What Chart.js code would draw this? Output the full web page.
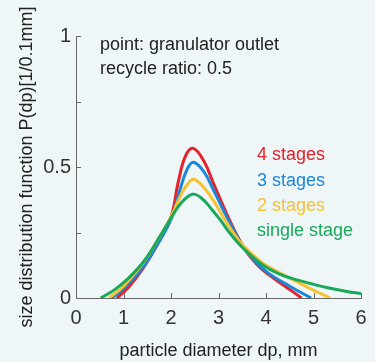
<!DOCTYPE html>
<html>
<head>
<meta charset="utf-8">
<script src="https://cdn.jsdelivr.net/npm/chart.js@4/dist/chart.umd.min.js"></script>
<style>
  html, body { margin:0; padding:0; background:#eef6f8; }
  #wrap { width:375px; height:362px; position:relative; }
</style>
</head>
<body>
<div id="wrap"><canvas id="c" width="375" height="362"></canvas></div>
<script>
// ---- data ----
const xTicks = [0, 1, 2, 3, 4, 5, 6];
const yTickLabels = [0, 0.5, 1];

const seriesNames = ["4 stages", "3 stages", "2 stages", "single stage"];

const x4 = [0.86, 1.1, 1.4, 1.7, 2.0, 2.15, 2.3, 2.47, 2.7, 2.9, 3.2, 3.52, 3.8, 4.05, 4.4, 4.75];
const y4 = [0, 0.04, 0.11, 0.2, 0.31, 0.44, 0.54, 0.571, 0.52, 0.435, 0.31, 0.196, 0.13, 0.09, 0.045, 0];

const x3 = [0.75, 1.0, 1.4, 1.7, 2.0, 2.2, 2.35, 2.48, 2.7, 2.9, 3.2, 3.52, 3.8, 4.05, 4.5, 4.95];
const y3 = [0, 0.035, 0.115, 0.2, 0.30, 0.42, 0.495, 0.518, 0.48, 0.41, 0.30, 0.196, 0.135, 0.095, 0.045, 0];

const x2 = [0.7, 1.0, 1.4, 1.7, 2.0, 2.2, 2.35, 2.48, 2.7, 2.9, 3.2, 3.52, 3.94, 4.3, 4.65, 5.0, 5.35];
const y2 = [0, 0.045, 0.13, 0.215, 0.31, 0.39, 0.435, 0.453, 0.42, 0.37, 0.28, 0.20, 0.132, 0.095, 0.062, 0.03, 0];

const x1 = [0.52, 0.8, 1.1, 1.45, 1.8, 2.0, 2.2, 2.45, 2.65, 2.85, 3.05, 3.25, 3.52, 3.94, 4.3, 4.65, 5.0, 5.35, 5.7, 6.0];
const y1 = [0, 0.03, 0.075, 0.145, 0.245, 0.305, 0.36, 0.396, 0.38, 0.34, 0.295, 0.245, 0.19, 0.125, 0.09, 0.069, 0.052, 0.037, 0.025, 0.017];

const colors = ["#e3222c", "#1d86d6", "#f6c232", "#1aa85a"];
const noteLines = ["point: granulator outlet", "recycle ratio: 0.5"];

function pts(xs, ys) { return xs.map((x, i) => ({x: x, y: ys[i]})); }
const seriesData = [pts(x4, y4), pts(x3, y3), pts(x2, y2), pts(x1, y1)];

const FONT = "'Liberation Sans', Arial, sans-serif";

const decor = {
  id: 'decor',
  beforeDraw(chart) {
    const ctx = chart.ctx;
    ctx.save();
    ctx.fillStyle = '#eef6f8';
    ctx.fillRect(0, 0, chart.width, chart.height);
    ctx.restore();
  },
  afterDraw(chart) {
    const ctx = chart.ctx;
    const xs = chart.scales.x, ys = chart.scales.y;
    const ca = chart.chartArea;
    ctx.save();
    ctx.strokeStyle = '#666';
    ctx.lineWidth = 1;
    // inside tick marks
    xTicks.forEach(v => {
      if (v === 0) return;
      const px = Math.round(xs.getPixelForValue(v)) + 0.5;
      ctx.beginPath(); ctx.moveTo(px, ca.bottom); ctx.lineTo(px, ca.bottom - 5); ctx.stroke();
    });
    [0.25, 0.5, 0.75, 1].forEach(v => {
      const py = Math.round(ys.getPixelForValue(v)) + 0.5;
      ctx.beginPath(); ctx.moveTo(ca.left, py); ctx.lineTo(ca.left + 5, py); ctx.stroke();
    });
    // notes
    ctx.fillStyle = '#222';
    ctx.font = '18px ' + FONT;
    ctx.textBaseline = 'middle';
    ctx.textAlign = 'left';
    ctx.fillText(noteLines[0], 100, 45);
    ctx.fillText(noteLines[1], 100, 69);
    // series labels
    const ly = [155, 181, 206, 231];
    seriesNames.forEach((n, i) => {
      ctx.fillStyle = colors[i];
      ctx.fillText(n, 257, ly[i]);
    });
    ctx.restore();
  }
};

new Chart(document.getElementById('c'), {
  type: 'scatter',
  data: {
    datasets: seriesData.map((d, i) => ({
      label: seriesNames[i],
      data: d,
      showLine: true,
      borderColor: colors[i],
      backgroundColor: colors[i],
      borderWidth: 3,
      pointRadius: 0,
      tension: 0.4,
      fill: false
    })).reverse()
  },
  options: {
    responsive: false,
    animation: false,
    events: [],
    layout: { padding: { top: 36, right: 14, left: 0, bottom: 0 } },
    plugins: { legend: { display: false }, tooltip: { enabled: false } },
    scales: {
      x: {
        type: 'linear', min: 0, max: 6,
        afterFit: s => { s.height = 64; },
        grid: { display: true, drawOnChartArea: false, drawTicks: false },
        border: { display: true, color: '#666', width: 1 },
        ticks: { stepSize: 1, padding: 8, color: '#333', font: { size: 20, family: FONT },
                 callback: v => String(v) },
        title: { display: true, text: 'particle diameter dp, mm', color: '#222',
                 font: { size: 18, family: FONT }, padding: { top: 0, bottom: 0 } }
      },
      y: {
        type: 'linear', min: 0, max: 1,
        afterFit: s => { s.width = 76; },
        grid: { display: true, drawOnChartArea: false, drawTicks: false },
        border: { display: true, color: '#666', width: 1 },
        ticks: { stepSize: 0.25, padding: 5, color: '#333', font: { size: 20, family: FONT },
                 callback: v => (yTickLabels.includes(v) ? String(v) : '') },
        title: { display: true, text: 'size distribution function P(dp)[1/0.1mm]', color: '#222',
                 font: { size: 18, family: FONT }, padding: { top: 16, bottom: 0 } }
      }
    }
  },
  plugins: [decor]
});
</script>
</body>
</html>
